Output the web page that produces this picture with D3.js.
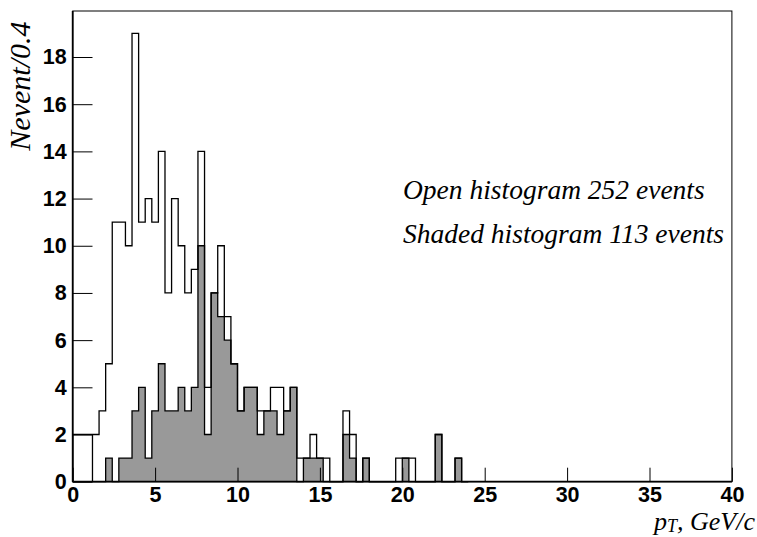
<!DOCTYPE html>
<html>
<head>
<meta charset="utf-8">
<script src="https://cdn.jsdelivr.net/npm/d3@7"></script>
<style>
  html, body { margin: 0; padding: 0; background: #fff; }
  svg { display: block; }
</style>
</head>
<body>
<svg id="chart" width="757" height="537"></svg>
<script>
// ---- data (bin width 0.4 GeV/c, range 0..40) ----
const binWidth = 0.4;
const xDomain = [0, 40];
const yDomain = [0, 19.95];
const openCounts = [
  2, 2, 2, 2, 3, 5, 11, 11, 10, 19,
  11, 12, 11, 14, 8, 12, 10, 8, 9, 14,
  4, 8, 10, 7, 5, 3, 4, 4, 3, 3,
  4, 4, 3, 4, 1, 1, 2, 1, 1, 0,
  0, 3, 2, 0, 1, 0, 0, 0, 0, 1,
  1, 1, 0, 0, 0, 2, 0, 0, 1, 0
];
const shadedCounts = [
  0, 0, 0, 0, 0, 1, 0, 1, 1, 3,
  4, 1, 3, 5, 3, 3, 4, 3, 4, 10,
  2, 8, 7, 6, 5, 3, 4, 4, 2, 3,
  3, 2, 3, 4, 0, 1, 1, 1, 0, 0,
  0, 2, 1, 0, 1, 0, 0, 0, 0, 0,
  1, 0, 0, 0, 0, 2, 0, 0, 1, 0
];
const openEdgeMarks = [1.2];           // extra drawn bin edge in open histogram
const xMajorTicks = [0, 5, 10, 15, 20, 25, 30, 35, 40];
const xMinorTicks = d3.range(0, 41, 1);
const yMajorTicks = [0, 2, 4, 6, 8, 10, 12, 14, 16, 18];
const yMinorTicks = d3.range(0, 20, 0.5);
const legendLines = ["Open histogram 252 events", "Shaded histogram 113 events"];
const yTitle = "Nevent/0.4";

// ---- layout ----
const svg = d3.select("#chart");
const x = d3.scaleLinear().domain(xDomain).range([72.7, 731.9]);
const y = d3.scaleLinear().domain(yDomain).range([481.7, 11]);

function stepPoints(counts) {
  const pts = [[x(0), y(0)]];
  counts.forEach((v, i) => {
    pts.push([x(i * binWidth), y(v)]);
    pts.push([x((i + 1) * binWidth), y(v)]);
  });
  pts.push([x(counts.length * binWidth), y(0)]);
  return pts;
}
const line = d3.line();

// shaded histogram (filled)
svg.append("path")
  .attr("d", line(stepPoints(shadedCounts)) + "Z")
  .attr("fill", "#999999")
  .attr("stroke", "none");

// shaded outline
svg.append("path")
  .attr("d", line(stepPoints(shadedCounts)))
  .attr("fill", "none")
  .attr("stroke", "#000")
  .attr("stroke-width", 1.3);

// open histogram outline
svg.append("path")
  .attr("d", line(stepPoints(openCounts)))
  .attr("fill", "none")
  .attr("stroke", "#000")
  .attr("stroke-width", 1.3);

svg.selectAll("line.edge").data(openEdgeMarks).enter().append("line")
  .attr("class", "edge")
  .attr("x1", d => x(d)).attr("x2", d => x(d))
  .attr("y1", y(0))
  .attr("y2", d => y(openCounts[Math.round(d / binWidth)]))
  .attr("stroke", "#000").attr("stroke-width", 1.3);

// ---- axes ----
const tickFont = "bold 21.5px 'Liberation Sans', Arial, Helvetica, sans-serif";

const gx = svg.append("g").attr("transform", `translate(0,${y(0)})`);
gx.call(d3.axisBottom(x).tickValues(xMinorTicks).tickSize(-7).tickFormat(""));
gx.call(d3.axisBottom(x).tickValues(xMajorTicks).tickSize(-14).tickPadding(5).tickFormat(d3.format("d")));
gx.selectAll(".domain").remove();

const gy = svg.append("g").attr("transform", `translate(${x(0)},0)`);
gy.call(d3.axisLeft(y).tickValues(yMinorTicks).tickSize(-9.9).tickFormat(""));
gy.call(d3.axisLeft(y).tickValues(yMajorTicks).tickSize(-19.8).tickPadding(6).tickFormat(d3.format("d")));
gy.selectAll(".domain").remove();

svg.selectAll(".tick line").attr("stroke", "#000").attr("stroke-width", 1);
svg.selectAll(".tick text")
  .style("font", tickFont)
  .attr("fill", "#000");

// frame
svg.append("rect")
  .attr("x", x(0)).attr("y", y(yDomain[1]))
  .attr("width", x(40) - x(0)).attr("height", y(0) - y(yDomain[1]))
  .attr("fill", "none").attr("stroke", "#000").attr("stroke-width", 1);
svg.append("line")
  .attr("x1", x(0)).attr("x2", x(40)).attr("y1", y(0)).attr("y2", y(0))
  .attr("stroke", "#000").attr("stroke-width", 1.8);
svg.append("line")
  .attr("x1", x(0)).attr("x2", x(0)).attr("y1", y(0)).attr("y2", y(yDomain[1]))
  .attr("stroke", "#000").attr("stroke-width", 1.8);

// ---- texts ----
const serifItalic = "'Liberation Serif', 'Times New Roman', Times, serif";

svg.selectAll("text.legend").data(legendLines).enter().append("text")
  .attr("class", "legend")
  .attr("x", 403)
  .attr("y", (d, i) => 199 + i * 44)
  .attr("font-family", serifItalic)
  .attr("font-style", "italic")
  .attr("font-size", 27.5)
  .attr("fill", "#000")
  .text(d => d);

svg.append("text")
  .attr("transform", "translate(30,21.5) rotate(-90)")
  .attr("text-anchor", "end")
  .attr("font-family", serifItalic)
  .attr("font-style", "italic")
  .attr("font-size", 30)
  .attr("fill", "#000")
  .text(yTitle);

const xt = svg.append("text")
  .attr("x", 755).attr("y", 529.5)
  .attr("text-anchor", "end")
  .attr("font-family", serifItalic)
  .attr("font-style", "italic")
  .attr("font-size", 26)
  .attr("fill", "#000");
xt.append("tspan").text("p");
xt.append("tspan").attr("font-size", 18).attr("dy", 2.5).text("T");
xt.append("tspan").attr("dy", -2.5).text(", GeV/c");
</script>
</body>
</html>
